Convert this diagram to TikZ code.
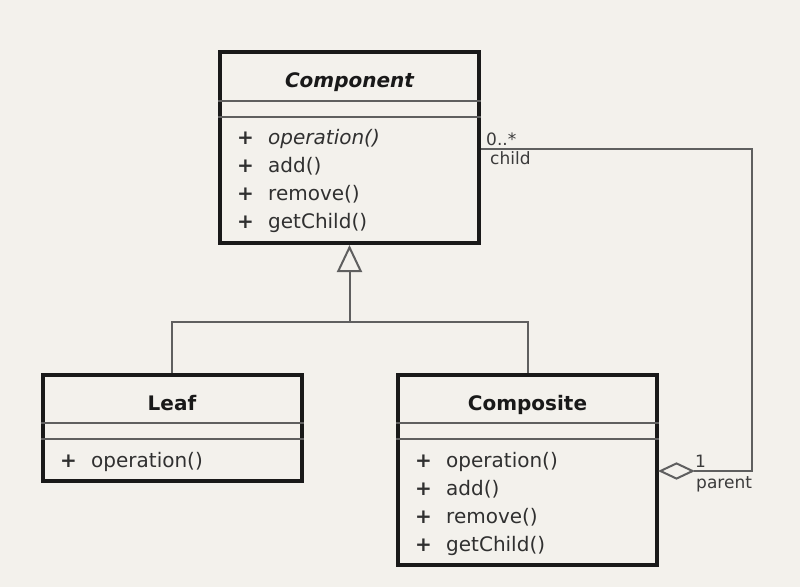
\documentclass[tikz,border=0pt]{standalone}
\usepackage{fontspec}
\setmainfont{DejaVu Sans}
\usetikzlibrary{arrows.meta, shapes.geometric}
\definecolor{paper}{RGB}{243,241,236}
\definecolor{ink}{RGB}{25,25,25}
\definecolor{wire}{RGB}{95,95,95}

\begin{document}
\begin{tikzpicture}[x=1pt, y=-1pt, font=\fontsize{20}{24}\selectfont,
    classbox/.style={draw=ink, line width=4pt, minimum width=259pt, inner sep=0pt},
    divider/.style={draw=wire, line width=2pt},
    wire/.style={draw=wire, line width=2pt},
    title/.style={anchor=base, inner sep=0pt, font=\fontsize{20}{24}\selectfont\bfseries, text=ink},
    member/.style={anchor=base west, inner sep=0pt, text=ink!90},
    role/.style={anchor=base west, inner sep=0pt, font=\fontsize{17}{20}\selectfont, text=ink!85}]
    \fill[paper] (0,0) rectangle (800,587);

    % classes
    \node[classbox, minimum height=191pt] (component) at (349.5,147.5) {};
    \node[classbox, minimum height=106pt] (leaf) at (172,428) {};
    \node[classbox, minimum height=190pt] (composite) at (527.5,470) {};

    \node[title, font=\fontsize{20}{24}\selectfont\bfseries\itshape] (component-name)
        at (349.5,87) {Component};
    \node[title] (leaf-name) at (172,410) {Leaf};
    \node[title] (composite-name) at (527.5,410) {Composite};

    \draw[divider] (component.west |- 0,101) -- (component.east |- 0,101);
    \draw[divider] (component.west |- 0,117) -- (component.east |- 0,117);
    \draw[divider] (leaf.west |- 0,423) -- (leaf.east |- 0,423);
    \draw[divider] (leaf.west |- 0,439) -- (leaf.east |- 0,439);
    \draw[divider] (composite.west |- 0,423) -- (composite.east |- 0,423);
    \draw[divider] (composite.west |- 0,439) -- (composite.east |- 0,439);

    % operations
    \foreach \op [count=\i] in {{\itshape operation()}, add(), remove(), getChild()} {
        \node[member] (component-plus-\i) at (237, 116+28*\i) {\textbf{+}};
        \node[member] (component-op-\i) at (268, 116+28*\i) {\op};
    }
    \node[member] (leaf-plus-1) at (60,467) {\textbf{+}};
    \node[member] (leaf-op-1) at (91,467) {operation()};
    \foreach \op [count=\i] in {operation(), add(), remove(), getChild()} {
        \node[member] (composite-plus-\i) at (415, 439+28*\i) {\textbf{+}};
        \node[member] (composite-op-\i) at (446, 439+28*\i) {\op};
    }

    % generalization
    \coordinate (branch) at (349.5,322);
    \draw[wire, -{Triangle[open, length=27pt, width=25pt]}] (branch) -- (component.south);
    \draw[wire] (leaf.north) |- (branch) -| (composite.north);

    % aggregation
    \node[diamond, draw=wire, line width=2pt, fill=paper, inner sep=0pt,
        minimum width=33pt, minimum height=16pt, anchor=west] (aggregate)
        at (composite.east |- 0,471) {};
    \draw[wire] (aggregate.east) -- (752,471) -- (752,149)
        -- (component.east |- 0,149);
    \node[role] (child-mult) at (486,145) {0..*};
    \node[role] (child-role) at (490,164) {child};
    \node[role] (parent-mult) at (695,467) {1};
    \node[role] (parent-role) at (696,488) {parent};
\end{tikzpicture}
\end{document}
